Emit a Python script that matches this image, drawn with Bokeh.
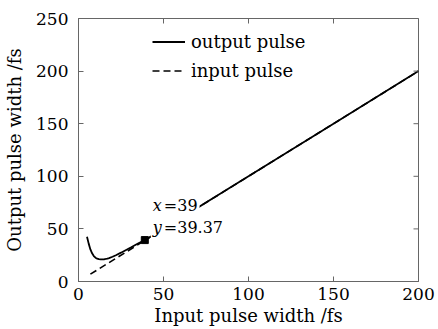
import math
from bokeh.plotting import figure
from bokeh.models import Label, Legend, LegendItem, Range1d, FixedTicker
from bokeh.embed import file_html
from bokeh.resources import INLINE

# ---- data ----
x_output = [5, 6, 7, 8, 9, 10, 11, 12, 13, 14, 15, 16, 17, 18, 20, 22, 25, 28, 31, 35, 39,
            45, 60, 80, 100, 150, 200]
y_output = [42.5, 36, 30.5, 26.8, 24.2, 22.6, 21.7, 21.2, 21.0, 21.0, 21.1, 21.4, 21.8, 22.3,
            23.5, 25.0, 27.4, 30.0, 32.6, 36.1, 39.37, 45, 60, 80, 100, 150, 200]
x_input = [7, 200]
y_input = [7, 200]
marker_x = [39]
marker_y = [39.37]
x_ticks = [0, 50, 100, 150, 200]
y_ticks = [0, 50, 100, 150, 200, 250]
x_max = 200
y_max = 250

FONT = "DejaVu Serif"
GRAY = "#666666"

p = figure(width=438, height=329, x_range=Range1d(0, x_max), y_range=Range1d(0, y_max),
           output_backend="svg", toolbar_location=None,
           min_border_left=78, min_border_right=20, min_border_top=18, min_border_bottom=48)
p.grid.visible = False
p.outline_line_color = GRAY
p.background_fill_color = "white"

r_in = p.line(x_input, y_input, line_color="black", line_width=1.6, line_dash="7 4")
r_out = p.line(x_output, y_output, line_color="black", line_width=1.8)
p.scatter(marker_x, marker_y, marker="square", size=7, color="black")

# mirrored inward ticks on top and right edges
p.scatter(x_ticks, [y_max] * len(x_ticks), marker="dash", angle=math.pi / 2, size=10,
          line_color=GRAY, line_width=1)
p.scatter([x_max] * len(y_ticks), y_ticks, marker="dash", size=10,
          line_color=GRAY, line_width=1)

for ax in (p.xaxis[0], p.yaxis[0]):
    ax.major_tick_in = 5
    ax.major_tick_out = 0
    ax.minor_tick_in = 0
    ax.minor_tick_out = 0
    ax.axis_line_color = GRAY
    ax.major_tick_line_color = GRAY
    ax.major_label_text_font = FONT
    ax.major_label_text_font_size = "17px"
    ax.major_label_text_color = "black"
    ax.axis_label_text_font = FONT
    ax.axis_label_text_font_size = "18px"
    ax.axis_label_text_font_style = "normal"
    ax.axis_label_text_color = "black"

p.xaxis.ticker = FixedTicker(ticks=x_ticks)
p.yaxis.ticker = FixedTicker(ticks=y_ticks)
p.xaxis.axis_label = "Input pulse width /fs"
p.yaxis.axis_label = "Output pulse width /fs"
p.xaxis.major_label_standoff = 6
p.yaxis.major_label_standoff = 10
p.xaxis.axis_label_standoff = 2
p.yaxis.axis_label_standoff = 8

legend = Legend(items=[LegendItem(label="output pulse", renderers=[r_out]),
                       LegendItem(label="input pulse", renderers=[r_in])],
                location=(74, 196), border_line_color=None, background_fill_alpha=0,
                padding=0, spacing=0, margin=0, label_text_font=FONT,
                label_text_color="black",
                label_text_font_size="18px", glyph_width=33, glyph_height=29,
                label_height=29, label_standoff=6)
p.add_layout(legend)

common = dict(x=marker_x[0], y=marker_y[0], x_units="data", y_units="data",
              text_font=FONT, text_font_size="16px", text_color="black",
              text_baseline="middle", background_fill_color="white", padding=2)
# upright parts first, italic letters drawn on top of them
p.add_layout(Label(text="=%g" % marker_x[0], x_offset=17, y_offset=35, **common))
p.add_layout(Label(text="=%g" % marker_y[0], x_offset=17, y_offset=13, **common))
p.add_layout(Label(text="x", text_font_style="italic", x_offset=6, y_offset=35, **common))
p.add_layout(Label(text="y", text_font_style="italic", x_offset=6, y_offset=13, **common))

open("out.html", "w").write(file_html(p, INLINE))
